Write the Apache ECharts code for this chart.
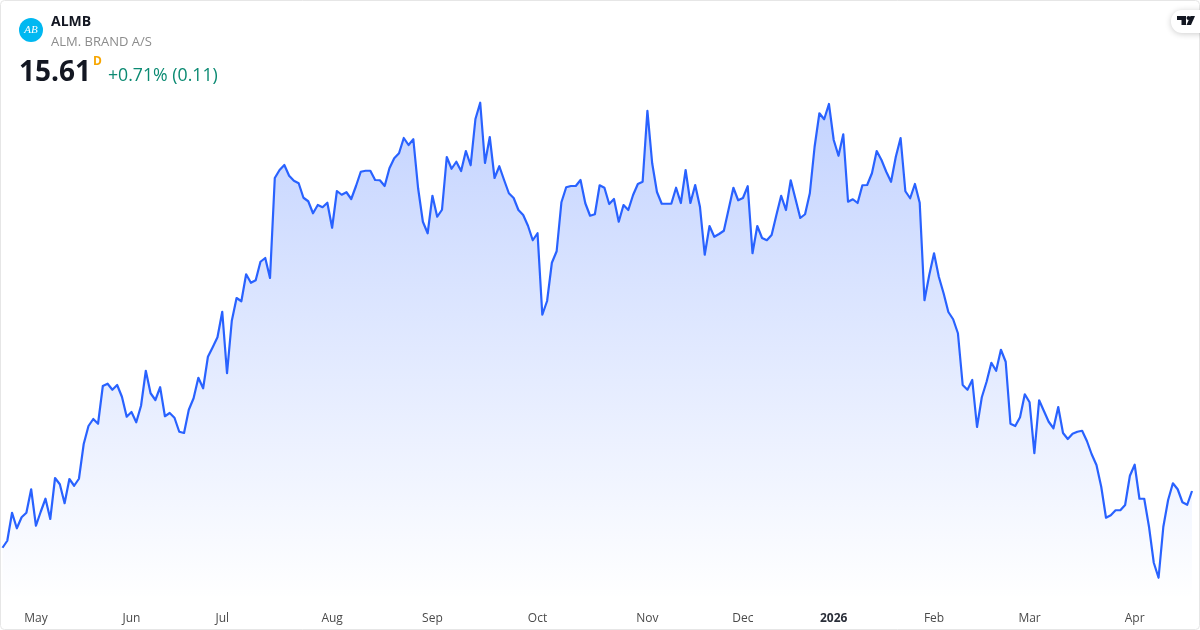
<!DOCTYPE html>
<html>
<head>
<meta charset="utf-8">
<title>ALMB</title>
<script src="https://cdn.jsdelivr.net/npm/echarts@6/dist/echarts.min.js"></script>
<style>
	html, body { margin: 0; padding: 0; background: #fff; }
	#chart { width: 1200px; height: 630px; }
</style>
</head>
<body>
<div id="chart"></div>
<script>
// daily closes
var closes = [
	15.156, 15.212, 15.436, 15.312, 15.400, 15.436, 15.624, 15.332, 15.444, 15.548,
	15.386, 15.714, 15.664, 15.512, 15.706, 15.652, 15.708, 15.986, 16.130, 16.186,
	16.148, 16.450, 16.468, 16.420, 16.458, 16.364, 16.204, 16.242, 16.160, 16.292,
	16.572, 16.392, 16.338, 16.440, 16.208, 16.234, 16.196, 16.084, 16.074, 16.260,
	16.352, 16.516, 16.432, 16.684, 16.760, 16.840, 17.044, 16.552, 16.972, 17.154,
	17.128, 17.344, 17.276, 17.296, 17.444, 17.474, 17.314, 18.114, 18.178, 18.218,
	18.132, 18.092, 18.072, 17.956, 17.928, 17.832, 17.898, 17.880, 17.916, 17.716,
	18.010, 17.980, 18.000, 17.946, 18.050, 18.164, 18.172, 18.172, 18.098, 18.096,
	18.050, 18.192, 18.272, 18.312, 18.434, 18.378, 18.424, 18.032, 17.764, 17.672,
	17.972, 17.804, 17.860, 18.282, 18.188, 18.244, 18.170, 18.330, 18.216, 18.586,
	18.716, 18.234, 18.442, 18.114, 18.208, 18.098, 17.992, 17.954, 17.858, 17.818,
	17.732, 17.616, 17.672, 17.020, 17.130, 17.436, 17.528, 17.920, 18.040, 18.050,
	18.050, 18.098, 17.912, 17.812, 17.824, 18.056, 18.036, 17.906, 17.946, 17.764,
	17.898, 17.858, 17.978, 18.066, 18.084, 18.652, 18.232, 18.002, 17.908, 17.908,
	17.908, 18.036, 17.914, 18.178, 17.914, 18.058, 17.884, 17.500, 17.730, 17.644,
	17.666, 17.692, 17.864, 18.036, 17.936, 17.954, 18.048, 17.512, 17.730, 17.634,
	17.616, 17.658, 17.818, 17.972, 17.858, 18.096, 17.946, 17.794, 17.824, 17.992,
	18.364, 18.632, 18.584, 18.706, 18.418, 18.292, 18.464, 17.924, 17.944, 17.914,
	18.056, 18.058, 18.152, 18.330, 18.258, 18.164, 18.084, 18.284, 18.434, 18.008,
	17.952, 18.066, 17.916, 17.136, 17.338, 17.512, 17.324, 17.192, 17.042, 16.984,
	16.872, 16.458, 16.420, 16.498, 16.122, 16.360, 16.484, 16.636, 16.572, 16.740,
	16.644, 16.148, 16.130, 16.200, 16.384, 16.320, 15.912, 16.336, 16.250, 16.164,
	16.112, 16.282, 16.074, 16.026, 16.068, 16.084, 16.092, 16.010, 15.904, 15.818,
	15.644, 15.396, 15.416, 15.456, 15.456, 15.498, 15.732, 15.820, 15.548, 15.548,
	15.324, 15.036, 14.916, 15.324, 15.538, 15.672, 15.624, 15.520, 15.500, 15.610
];

// month labels and the trading day each one sits on
var tick_labels = ['May', 'Jun', 'Jul', 'Aug', 'Sep', 'Oct', 'Nov', 'Dec', '2026', 'Feb', 'Mar', 'Apr'];
var tick_days = [7, 27, 46, 69, 90, 112, 135, 155, 174, 195, 215, 237];

var ticker = 'ALMB';
var company = 'ALM. BRAND A/S';
var last_price = '15.61';
var interval_mark = 'D';
var change_text = '+0.71% (0.11)';

var font = '"Open Sans", "Noto Sans", sans-serif';

var categories = closes.map(function (v, i) {
	var at = tick_days.indexOf(i);
	return at >= 0 ? tick_labels[at] : 'd' + i;
});

var chart = echarts.init(document.getElementById('chart'), null, { renderer: 'canvas' });

var option = {
	animation: false,
	backgroundColor: '#ffffff',
	grid: {
		left: 2.5,
		right: 8,
		top: 98.5,
		height: 500
	},
	xAxis: {
		type: 'category',
		boundaryGap: false,
		data: categories,
		axisLine: { show: false },
		axisTick: { show: false },
		splitLine: { show: false },
		axisLabel: {
			margin: 14,
			hideOverlap: false,
			interval: function (i) {
				return tick_days.indexOf(i) >= 0;
			},
			color: '#4a4a4a',
			fontFamily: font,
			fontSize: 12,
			rich: {
				year: { fontWeight: 'bold', fontSize: 12, fontFamily: font, color: '#2a2e39' }
			},
			formatter: function (v) {
				return v == '2026' ? '{year|2026}' : v;
			}
		}
	},
	yAxis: {
		type: 'value',
		min: 14.75,
		max: 18.75,
		show: false
	},
	series: [
		{
			type: 'line',
			data: closes,
			showSymbol: false,
			smooth: false,
			silent: true,
			lineStyle: { color: '#2962ff', width: 2.2, join: 'round' },
			areaStyle: {
				origin: 'start',
				opacity: 1,
				color: new echarts.graphic.LinearGradient(0, 100, 0, 600, [
					{ offset: 0, color: 'rgba(41, 98, 255, 0.28)' },
					{ offset: 1, color: 'rgba(41, 98, 255, 0)' }
				], true)
			}
		}
	],
	graphic: [
		// card frame
		{ type: 'rect', silent: true, shape: { x: 0.5, y: 0.5, width: 1199, height: 629, r: 4 }, style: { fill: 'none', stroke: '#e6e6e6', lineWidth: 1 } },
		// logo
		{ type: 'circle', shape: { cx: 31, cy: 30, r: 12 }, style: { fill: '#00b8f1' } },
		{ type: 'text', x: 31, y: 30.5, style: { text: 'AB', fill: '#ffffff', font: 'italic 11px "Liberation Serif", serif', align: 'center', verticalAlign: 'middle' } },
		// header
		{ type: 'text', x: 51, y: 22, style: { text: ticker, fill: '#131722', font: 'bold 14px ' + font, verticalAlign: 'middle' } },
		{ type: 'text', x: 51, y: 42, style: { text: company, fill: '#8c8c8c', font: '13px ' + font, verticalAlign: 'middle' } },
		{ type: 'text', x: 19, y: 73, style: { text: last_price, fill: '#131722', font: 'bold 28px ' + font, verticalAlign: 'middle' } },
		{ type: 'text', x: 93, y: 62, style: { text: interval_mark, fill: '#f7a600', font: 'bold 12px ' + font, verticalAlign: 'middle' } },
		{ type: 'text', x: 108, y: 76, style: { text: change_text, fill: '#0b8a72', font: '17.7px ' + font, verticalAlign: 'middle' } },
		// tradingview badge
		{ type: 'rect', shape: { x: 1171, y: 10, width: 40, height: 23, r: 11 }, style: { fill: '#ffffff', shadowBlur: 6, shadowColor: 'rgba(0, 0, 0, 0.2)', shadowOffsetY: 1 } },
		{ type: 'polygon', shape: { points: [[1177, 16], [1186, 16], [1186, 25], [1181.5, 25], [1181.5, 20], [1177, 20]] }, style: { fill: '#131722' } },
		{ type: 'circle', shape: { cx: 1188.5, cy: 18, r: 2 }, style: { fill: '#131722' } },
		{ type: 'polygon', shape: { points: [[1190.5, 16], [1195, 16], [1191, 25], [1186.5, 25]] }, style: { fill: '#131722' } }
	]
};
chart.setOption(option);
</script>
</body>
</html>
